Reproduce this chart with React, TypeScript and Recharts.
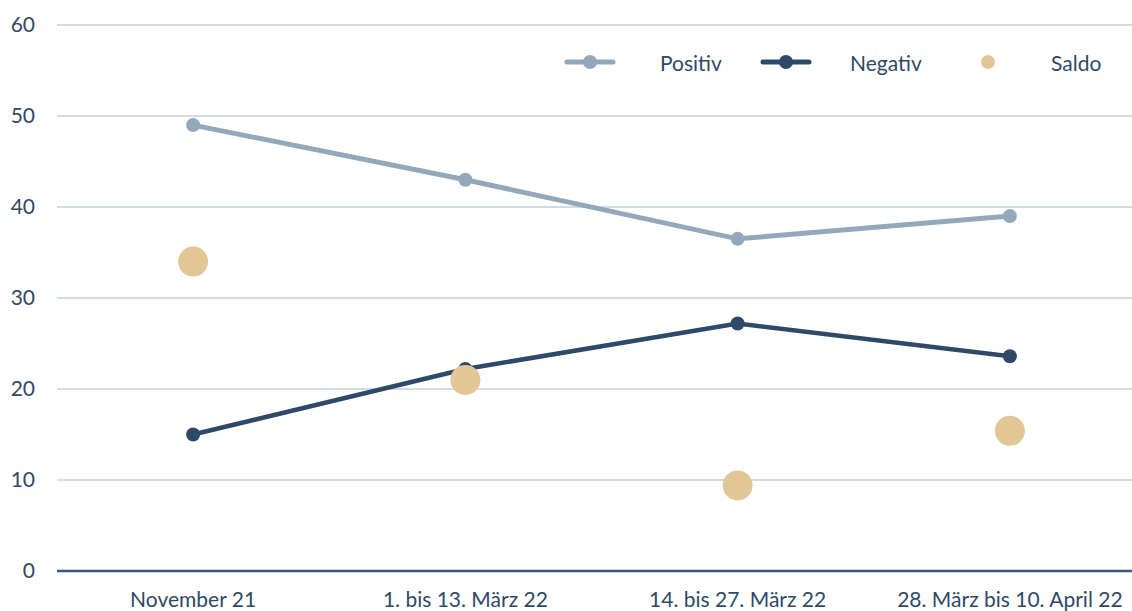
import { ComposedChart, Line, XAxis, YAxis, CartesianGrid } from 'recharts';

const categories = ['November 21', '1. bis 13. März 22', '14. bis 27. März 22', '28. März bis 10. April 22'];
const positiv = [49, 43, 36.5, 39];
const negativ = [15, 22.2, 27.2, 23.6];
const saldo = [34, 21, 9.4, 15.4];
const yTicks = [0, 10, 20, 30, 40, 50, 60];

const data = categories.map((name, i) => ({
  name,
  positiv: positiv[i],
  negativ: negativ[i],
  saldo: saldo[i],
}));

const TEXT = '#2f4a66';
const FONT = 'Lato, "Open Sans", sans-serif';
const C_POS = '#94a8bb';
const C_NEG = '#2e4a68';
const C_SAL = '#e2c796';

// legend entries: symbol centre x, text left x
const legendItems = [
  { label: 'Positiv', color: C_POS, line: true, cx: 590, tx: 660 },
  { label: 'Negativ', color: C_NEG, line: true, cx: 786, tx: 850 },
  { label: 'Saldo', color: C_SAL, line: false, cx: 988, tx: 1051 },
];

function ChartLegend() {
  return (
    <div style={{ position: 'absolute', left: 0, top: 0, width: 1132, height: 0, fontFamily: FONT, fontSize: 21, color: TEXT }}>
      {legendItems.map((it) => (
        <div key={it.label}>
          <svg style={{ position: 'absolute', left: it.cx - 26, top: 52 }} width={52} height={20}>
            {it.line && <line x1={3} y1={10} x2={49} y2={10} stroke={it.color} strokeWidth={5} strokeLinecap="round" />}
            <circle cx={26} cy={10} r={7} fill={it.color} />
          </svg>
          <span style={{ position: 'absolute', left: it.tx, top: 62, transform: 'translateY(-50%)', lineHeight: 1, whiteSpace: 'nowrap' }}>{it.label}</span>
        </div>
      ))}
    </div>
  );
}

export default function App() {
  return (
    <div style={{ position: 'fixed', left: 0, top: 0, width: 1132, height: 611, overflow: 'hidden', background: '#fff' }}>
      <ComposedChart width={1150} height={611} data={data} margin={{ top: 25, right: 4, left: 0, bottom: 0 }}>
        <CartesianGrid vertical={false} stroke="#c3d0dc" strokeWidth={1.5} />
        <XAxis
          dataKey="name"
          scale="band"
          height={40}
          axisLine={{ stroke: '#3a5575', strokeWidth: 2.5 }}
          tickLine={false}
          tickMargin={15}
          tick={{ fill: TEXT, fontSize: 21, fontFamily: FONT }}
          interval={0}
        />
        <YAxis
          width={57}
          domain={[0, 60]}
          ticks={yTicks}
          axisLine={false}
          tickLine={false}
          tickMargin={16}
          tick={{ fill: TEXT, fontSize: 21, fontFamily: FONT }}
        />
        <Line dataKey="positiv" stroke={C_POS} strokeWidth={5} dot={{ r: 7, fill: C_POS, stroke: 'none' }} activeDot={false} isAnimationActive={false} />
        <Line dataKey="negativ" stroke={C_NEG} strokeWidth={4.5} dot={{ r: 7, fill: C_NEG, stroke: 'none' }} activeDot={false} isAnimationActive={false} />
        <Line dataKey="saldo" stroke="none" dot={{ r: 15, fill: C_SAL, stroke: 'none' }} activeDot={false} isAnimationActive={false} />
      </ComposedChart>
      <ChartLegend />
    </div>
  );
}
